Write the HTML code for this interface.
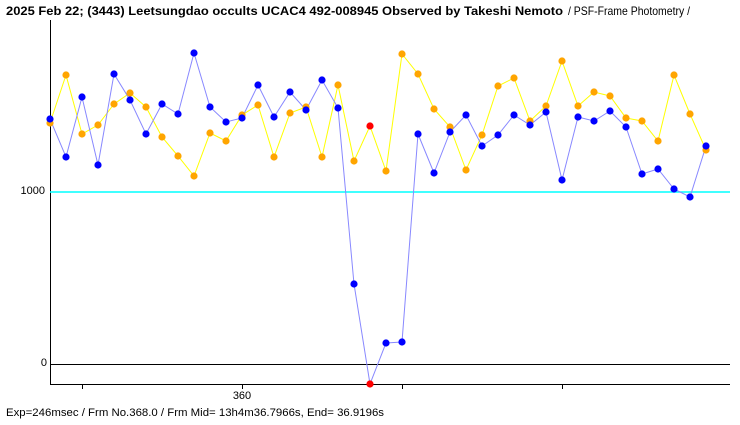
<!DOCTYPE html>
<html><head><style>html,body{margin:0;padding:0;background:#fff}svg{display:block}</style></head><body>
<svg width="740" height="425" xmlns="http://www.w3.org/2000/svg" font-family="Liberation Sans, sans-serif">
<rect width="740" height="425" fill="#fff"/>
<text x="6" y="15" font-size="12" font-weight="bold" textLength="557" lengthAdjust="spacingAndGlyphs">2025 Feb 22; (3443) Leetsungdao occults UCAC4 492-008945 Observed by Takeshi Nemoto</text>
<text x="568" y="15" font-size="12" textLength="122" lengthAdjust="spacingAndGlyphs">/ PSF-Frame Photometry /</text>
<line x1="50.5" y1="20" x2="50.5" y2="385" stroke="#000"/>
<line x1="50" y1="384.5" x2="730" y2="384.5" stroke="#000"/>
<line x1="50" y1="192" x2="730" y2="192" stroke="#00ffff" stroke-width="1.5"/>
<line x1="50" y1="364.5" x2="730" y2="364.5" stroke="#000"/>
<g stroke="#000"><line x1="82.5" y1="384" x2="82.5" y2="389"/><line x1="242.5" y1="384" x2="242.5" y2="389"/><line x1="402.5" y1="384" x2="402.5" y2="389"/><line x1="562.5" y1="384" x2="562.5" y2="389"/></g>
<text x="45" y="194" font-size="11" text-anchor="end">1000</text>
<text x="47" y="366" font-size="11" text-anchor="end">0</text>
<text x="242" y="399" font-size="11" text-anchor="middle">360</text>
<text x="6" y="416" font-size="11" textLength="378" lengthAdjust="spacingAndGlyphs">Exp=246msec / Frm No.368.0 / Frm Mid= 13h4m36.7966s,  End= 36.9196s</text>
<polyline fill="none" stroke="#ffff00" stroke-width="1" points="50,123 66,75 82,134 98,125 114,104 130,93 146,107 162,137 178,156 194,176 210,133 226,141 242,115 258,105 274,157 290,113 306,107 322,157 338,85 354,161 370,126 386,171 402,54 418,74 434,109 450,127 466,170 482,135 498,86 514,78 530,121 546,106 562,61 578,106 594,92 610,96 626,118 642,121 658,141 674,75 690,114 706,150"/>
<polyline fill="none" stroke="#8888ff" stroke-width="1" points="50,119 66,157 82,97 98,165 114,74 130,100 146,134 162,104 178,114 194,53 210,107 226,122 242,118 258,85 274,117 290,92 306,110 322,80 338,108 354,284 370,384 386,343 402,342 418,134 434,173 450,132 466,115 482,146 498,135 514,115 530,125 546,112 562,180 578,117 594,121 610,111 626,127 642,174 658,169 674,189 690,197 706,146"/>
<g fill="#ffa500">
<circle cx="50" cy="123" r="3.6"/><circle cx="66" cy="75" r="3.6"/><circle cx="82" cy="134" r="3.6"/><circle cx="98" cy="125" r="3.6"/><circle cx="114" cy="104" r="3.6"/><circle cx="130" cy="93" r="3.6"/><circle cx="146" cy="107" r="3.6"/><circle cx="162" cy="137" r="3.6"/><circle cx="178" cy="156" r="3.6"/><circle cx="194" cy="176" r="3.6"/><circle cx="210" cy="133" r="3.6"/><circle cx="226" cy="141" r="3.6"/><circle cx="242" cy="115" r="3.6"/><circle cx="258" cy="105" r="3.6"/><circle cx="274" cy="157" r="3.6"/><circle cx="290" cy="113" r="3.6"/><circle cx="306" cy="107" r="3.6"/><circle cx="322" cy="157" r="3.6"/><circle cx="338" cy="85" r="3.6"/><circle cx="354" cy="161" r="3.6"/><circle cx="386" cy="171" r="3.6"/><circle cx="402" cy="54" r="3.6"/><circle cx="418" cy="74" r="3.6"/><circle cx="434" cy="109" r="3.6"/><circle cx="450" cy="127" r="3.6"/><circle cx="466" cy="170" r="3.6"/><circle cx="482" cy="135" r="3.6"/><circle cx="498" cy="86" r="3.6"/><circle cx="514" cy="78" r="3.6"/><circle cx="530" cy="121" r="3.6"/><circle cx="546" cy="106" r="3.6"/><circle cx="562" cy="61" r="3.6"/><circle cx="578" cy="106" r="3.6"/><circle cx="594" cy="92" r="3.6"/><circle cx="610" cy="96" r="3.6"/><circle cx="626" cy="118" r="3.6"/><circle cx="642" cy="121" r="3.6"/><circle cx="658" cy="141" r="3.6"/><circle cx="674" cy="75" r="3.6"/><circle cx="690" cy="114" r="3.6"/><circle cx="706" cy="150" r="3.6"/>
</g>
<g fill="#0000ff">
<circle cx="50" cy="119" r="3.6"/><circle cx="66" cy="157" r="3.6"/><circle cx="82" cy="97" r="3.6"/><circle cx="98" cy="165" r="3.6"/><circle cx="114" cy="74" r="3.6"/><circle cx="130" cy="100" r="3.6"/><circle cx="146" cy="134" r="3.6"/><circle cx="162" cy="104" r="3.6"/><circle cx="178" cy="114" r="3.6"/><circle cx="194" cy="53" r="3.6"/><circle cx="210" cy="107" r="3.6"/><circle cx="226" cy="122" r="3.6"/><circle cx="242" cy="118" r="3.6"/><circle cx="258" cy="85" r="3.6"/><circle cx="274" cy="117" r="3.6"/><circle cx="290" cy="92" r="3.6"/><circle cx="306" cy="110" r="3.6"/><circle cx="322" cy="80" r="3.6"/><circle cx="338" cy="108" r="3.6"/><circle cx="354" cy="284" r="3.6"/><circle cx="386" cy="343" r="3.6"/><circle cx="402" cy="342" r="3.6"/><circle cx="418" cy="134" r="3.6"/><circle cx="434" cy="173" r="3.6"/><circle cx="450" cy="132" r="3.6"/><circle cx="466" cy="115" r="3.6"/><circle cx="482" cy="146" r="3.6"/><circle cx="498" cy="135" r="3.6"/><circle cx="514" cy="115" r="3.6"/><circle cx="530" cy="125" r="3.6"/><circle cx="546" cy="112" r="3.6"/><circle cx="562" cy="180" r="3.6"/><circle cx="578" cy="117" r="3.6"/><circle cx="594" cy="121" r="3.6"/><circle cx="610" cy="111" r="3.6"/><circle cx="626" cy="127" r="3.6"/><circle cx="642" cy="174" r="3.6"/><circle cx="658" cy="169" r="3.6"/><circle cx="674" cy="189" r="3.6"/><circle cx="690" cy="197" r="3.6"/><circle cx="706" cy="146" r="3.6"/>
</g>
<g fill="#ff0000"><circle cx="370" cy="126" r="3.6"/><circle cx="370" cy="384" r="3.6"/></g>
</svg>
</body></html>
